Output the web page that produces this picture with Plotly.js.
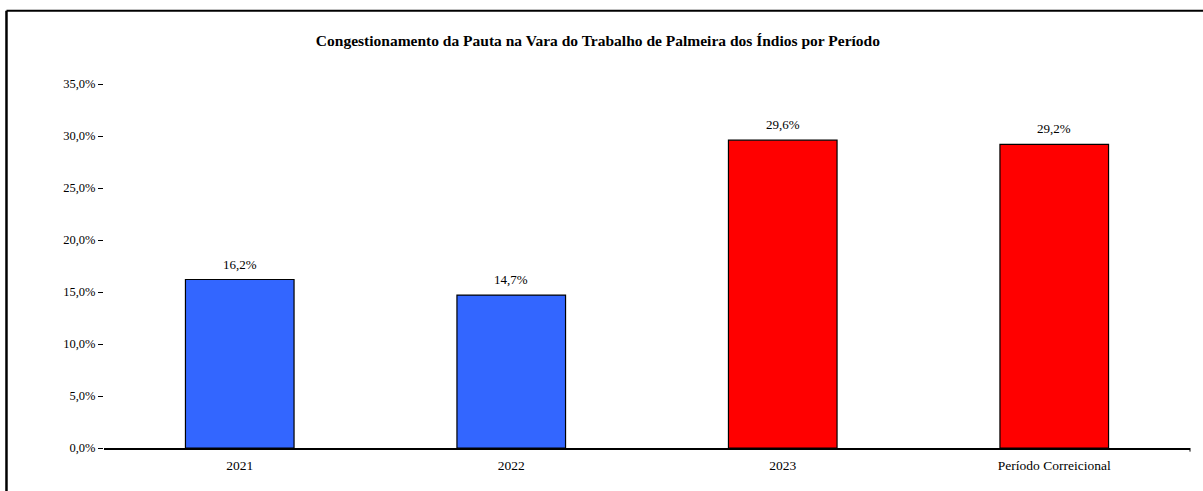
<!DOCTYPE html>
<html>
<head>
<meta charset="utf-8">
<script src="https://cdn.plot.ly/plotly-3.0.1.min.js"></script>
<style>html,body{margin:0;padding:0;background:#fff;}#chart{width:1203px;height:491px;}</style>
</head>
<body>
<div id="chart"></div>
<script>
const categories = ["2021", "2022", "2023", "Período Correicional"];
const values = [0.162, 0.147, 0.296, 0.292];
const barColors = ["#3366FF", "#3366FF", "#FF0000", "#FF0000"];
const yTickValues = [0, 0.05, 0.10, 0.15, 0.20, 0.25, 0.30, 0.35];

const font = "Liberation Serif, Times New Roman, serif";

function fmtPct(v) { return (v * 100).toFixed(1).replace(".", ",") + "%"; }

const trace = {
  type: "bar",
  x: categories,
  y: values,
  width: 0.4,
  marker: { color: barColors, line: { color: "#000", width: 1.2 } },
  hoverinfo: "skip"
};

// category axis: annotation x given as the category's index in the categories array
const annotations = categories.map((c, i) => ({
  x: i, y: values[i], xref: "x", yref: "y",
  text: fmtPct(values[i]), showarrow: false,
  yanchor: "bottom", yshift: 6,
  font: { family: font, size: 13, color: "#000" }
}));

const layout = {
  width: 1203,
  height: 491,
  separators: ",.",
  paper_bgcolor: "#fff",
  plot_bgcolor: "#fff",
  margin: { l: 104, r: 13, t: 84, b: 43 },
  showlegend: false,
  annotations: annotations,
  title: {
    text: "<b>Congestionamento da Pauta na Vara do Trabalho de Palmeira dos Índios por Período</b>",
    font: { family: font, size: 15.5, color: "#000" },
    x: 0.497, xanchor: "center", y: 0.918, yanchor: "middle"
  },
  xaxis: {
    type: "category",
    range: [-0.5, 3.5],
    showline: true, linecolor: "#000", linewidth: 1.5,
    ticks: "", showgrid: false, zeroline: false,
    ticklabelstandoff: 4,
    tickfont: { family: font, size: 13.5, color: "#000" },
    fixedrange: true
  },
  yaxis: {
    range: [0, 0.35],
    tickvals: yTickValues,
    tickformat: ".1%",
    showline: false, showgrid: false, zeroline: false,
    ticks: "outside", ticklen: 5, tickcolor: "#000", tickwidth: 1,
    tickfont: { family: font, size: 12.5, color: "#000" },
    fixedrange: true
  },
  shapes: [
    { type: "line", xref: "paper", yref: "paper", x0: 1, x1: 1, y0: 0, y1: -0.01, line: { color: "#000", width: 1 } },
    { type: "line", xref: "paper", yref: "paper", x0: -0.0898, x1: 1.0120, y0: 1.2012, y1: 1.2012, line: { color: "#000", width: 2 } },
    { type: "line", xref: "paper", yref: "paper", x0: -0.0898, x1: -0.0898, y0: 1.2012, y1: -0.2, line: { color: "#000", width: 2.5 } }
  ]
};

Plotly.newPlot("chart", [trace], layout, { displayModeBar: false, staticPlot: true });
</script>
</body>
</html>
